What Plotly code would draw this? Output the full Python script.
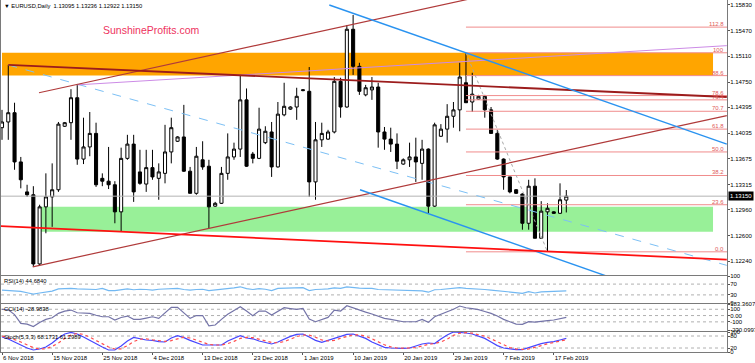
import plotly.graph_objects as go

# ---------------- data ----------------
bar_index = list(range(91))
opens = [1.1411, 1.1419, 1.1432, 1.1363, 1.1321, 1.1317, 1.1220, 1.1300, 1.1314, 1.1324,
         1.1413, 1.1418, 1.1453, 1.1367, 1.1384, 1.1403, 1.1340, 1.1336, 1.1331, 1.1293,
         1.1368, 1.1388, 1.1349, 1.1332, 1.1355, 1.1340, 1.1347, 1.1377, 1.1392, 1.1398,
         1.1350, 1.1319, 1.1366, 1.1357, 1.1301, 1.1305, 1.1347, 1.1370, 1.1381, 1.1450,
         1.1374, 1.1368, 1.1390, 1.1405, 1.1356, 1.1429, 1.1437, 1.1440, 1.1463, 1.1462,
         1.1335, 1.1394, 1.1395, 1.1405, 1.1476, 1.1440, 1.1549, 1.1497, 1.1457, 1.1464,
         1.1468, 1.1405, 1.1395, 1.1388, 1.1360, 1.1366, 1.1370, 1.1361, 1.1381, 1.1301,
         1.1399, 1.1409, 1.1427, 1.1436, 1.1474, 1.1447, 1.1451, 1.1455, 1.1436, 1.1403,
         1.1367, 1.1342, 1.1324, 1.1318, 1.1277, 1.1329, 1.1256, 1.1293, 1.1293, 1.1291,
         1.13095]
highs = [1.1436, 1.1499, 1.1446, 1.1370, 1.1331, 1.1329, 1.1303, 1.1347, 1.1361, 1.1419,
         1.1419, 1.1465, 1.1471, 1.1425, 1.1433, 1.1418, 1.1347, 1.1384, 1.1336, 1.1383,
         1.1401, 1.1401, 1.1380, 1.1380, 1.1380, 1.1361, 1.1415, 1.1425, 1.1399, 1.1443,
         1.1356, 1.1384, 1.1392, 1.1366, 1.1307, 1.1356, 1.1403, 1.1390, 1.1485, 1.1466,
         1.1377, 1.1439, 1.1413, 1.1419, 1.1447, 1.1474, 1.1441, 1.1467, 1.1465, 1.1496,
         1.1419, 1.1418, 1.1408, 1.1482, 1.1481, 1.1555, 1.1569, 1.1502, 1.1471, 1.1482,
         1.1474, 1.1412, 1.1411, 1.1403, 1.1368, 1.1390, 1.1397, 1.1394, 1.1382, 1.1418,
         1.1416, 1.1444, 1.1447, 1.1502, 1.1516, 1.1488, 1.1457, 1.1457, 1.1440, 1.1408,
         1.1368, 1.1342, 1.1325, 1.1319, 1.1338, 1.1340, 1.1308, 1.1305, 1.1294, 1.1333,
         1.13236]
lows = [1.1394, 1.1394, 1.1352, 1.1326, 1.1314, 1.1216, 1.1218, 1.1263, 1.1272, 1.1321,
        1.1412, 1.1394, 1.1359, 1.1360, 1.1371, 1.1328, 1.1329, 1.1325, 1.1277, 1.1265,
        1.1366, 1.1307, 1.1331, 1.1321, 1.1338, 1.1310, 1.1333, 1.1361, 1.1391, 1.1349,
        1.1319, 1.1317, 1.1352, 1.1270, 1.1300, 1.1304, 1.1338, 1.1366, 1.1370, 1.1356,
        1.1361, 1.1367, 1.1388, 1.1342, 1.1355, 1.1427, 1.1436, 1.1422, 1.1462, 1.1314,
        1.1310, 1.1384, 1.1394, 1.1403, 1.1425, 1.1439, 1.1485, 1.1457, 1.1455, 1.1450,
        1.1383, 1.1380, 1.1377, 1.1353, 1.1359, 1.1356, 1.1335, 1.1338, 1.1291, 1.1300,
        1.1398, 1.1390, 1.1411, 1.1406, 1.1446, 1.1433, 1.1450, 1.1425, 1.1403, 1.1366,
        1.1324, 1.1319, 1.1318, 1.1268, 1.1268, 1.1256, 1.1256, 1.1237, 1.1290, 1.1290,
        1.12922]
closes = [1.1419, 1.1432, 1.1363, 1.1338, 1.1317, 1.1220, 1.1300, 1.1314, 1.1324, 1.1416,
          1.1418, 1.1453, 1.1367, 1.1384, 1.1403, 1.1331, 1.1336, 1.1331, 1.1293, 1.1368,
          1.1388, 1.1321, 1.1333, 1.1355, 1.1342, 1.1349, 1.1377, 1.1411, 1.1398, 1.1350,
          1.1319, 1.1371, 1.1356, 1.1300, 1.1305, 1.1347, 1.1370, 1.1381, 1.1450, 1.1357,
          1.1368, 1.1409, 1.1406, 1.1356, 1.1430, 1.1441, 1.1440, 1.1455, 1.1464, 1.1335,
          1.1394, 1.1403, 1.1405, 1.1476, 1.1440, 1.1549, 1.1497, 1.1462, 1.1467, 1.1468,
          1.1405, 1.1395, 1.1388, 1.1364, 1.1366, 1.1370, 1.1363, 1.1381, 1.1301, 1.1415,
          1.1409, 1.1427, 1.1436, 1.1482, 1.1446, 1.1458, 1.1455, 1.1436, 1.1403, 1.1367,
          1.1342, 1.1321, 1.1319, 1.1277, 1.1329, 1.1256, 1.1294, 1.1298, 1.1291, 1.1310,
          1.13150]

rsi = [48, 46, 44, 43, 38, 33, 37, 40, 44, 52, 53, 54, 52, 51, 51, 50, 54, 46, 46, 48,
       52, 49, 51, 50, 48, 51, 52, 53, 54, 50, 48, 50, 51, 46, 48, 51, 54, 56, 60, 53,
       50, 53, 51, 46, 54, 55, 55, 56, 57, 46, 50, 51, 52, 56, 54, 60, 57, 55, 54, 54,
       50, 49, 48, 47, 47, 46, 46, 45, 40, 49, 50, 52, 54, 57, 54, 53, 53, 50, 48, 46,
       42, 40, 39, 36, 42, 37, 41, 42, 43, 46, 44.684]
cci = [98, 92, 16, -124, -135, -175, -110, -60, -35, 35, 70, 87, 44, 40, 35, 5, -19, -19, -71, -30,
       -8, -60, -60, -40, -19, -44, 40, 130, 130, 40, -44, 0, 0, -162, -150, -60, 19, 80, 140, 71,
       -3, 71, 71, 8, 70, 124, 110, 98, 114, -56, -98, -63, -29, 87, 71, 156, 119, 87, 55, 24,
       -8, -44, -60, -79, -98, -98, -98, -60, -108, -19, 20, 56, 100, 151, 124, 110, 95, 65, 35, -8,
       -60, -98, -135, -140, -98, -103, -87, -79, -71, -48, -28.98]
stoch_k = [75, 65, 50, 35, 20, 10, 15, 25, 45, 70, 90, 98, 90, 75, 57, 40, 25, 10, 10, 30,
           55, 73, 65, 60, 58, 52, 50, 70, 82, 72, 58, 45, 35, 35, 35, 35, 55, 68, 82, 70,
           66, 55, 48, 40, 50, 65, 78, 88, 90, 75, 58, 48, 58, 70, 80, 88, 90, 80, 68, 50,
           35, 23, 20, 18, 18, 20, 30, 40, 45, 42, 65, 85, 100, 98, 95, 90, 80, 68, 50, 32,
           20, 15, 12, 12, 22, 32, 42, 48, 52, 60, 68.17]
stoch_d = [80, 72, 62, 50, 35, 22, 15, 16, 28, 45, 68, 85, 93, 88, 74, 58, 40, 25, 15, 16,
           32, 52, 64, 66, 61, 57, 53, 57, 67, 74, 70, 58, 46, 38, 35, 35, 42, 53, 68, 73,
           72, 64, 56, 48, 46, 52, 64, 77, 85, 84, 74, 60, 55, 58, 69, 79, 86, 86, 79, 66,
           51, 36, 26, 20, 19, 19, 22, 30, 38, 42, 50, 64, 83, 94, 97, 94, 88, 79, 66, 50,
           34, 22, 16, 13, 15, 22, 32, 41, 47, 53, 61.30]

tick_bars = [0, 8, 16, 24, 32, 40, 48, 56, 64, 72, 80, 88]
tick_dates = ["6 Nov 2018", "15 Nov 2018", "25 Nov 2018", "4 Dec 2018", "13 Dec 2018",
              "23 Dec 2018", "1 Jan 2019", "10 Jan 2019", "20 Jan 2019", "29 Jan 2019",
              "7 Feb 2019", "17 Feb 2019"]
price_ticks = [1.15830, 1.15470, 1.15110, 1.14750, 1.14395, 1.14035, 1.13675, 1.13315,
               1.12960, 1.12600, 1.12240]

# drawing objects (bar index, price)
fib_levels = [1.1552, 1.1516, 1.1484, 1.1456, 1.1450, 1.1434, 1.1409, 1.1377, 1.1344, 1.1303, 1.1237]
fib_names = ["112.8", "100", "88.6", "78.6", "76.4", "70.7", "61.8", "50.0", "38.2", "23.6", "0.0"]
fib_start = 74
fib_diag_x = [74, 87]
fib_diag_y = [1.1516, 1.1237]
orange_zone_x = [0, 113.4]
orange_zone_y = [1.1484, 1.1516]
green_zone_x = [6, 113.4]
green_zone_y = [1.1265, 1.1300]
chan_up_x = [5.9, 115.6]
chan_up_y = [1.1460, 1.1670]
chan_lo_x = [4.9, 115.6]
chan_lo_y = [1.1216, 1.1428]
long_red_x = [1, 115.6]
long_red_y = [1.1499, 1.1454]
violet_x = [12, 115.6]
violet_y = [1.1471, 1.1526]
lblue_x = [1, 115.6]
lblue_y = [1.1499, 1.1218]
blue_up_x = [52.2, 115.6]
blue_up_y = [1.1583, 1.1388]
blue_lo_x = [57.1, 115.6]
blue_lo_y = [1.1324, 1.1144]
red_x = [-0.2, 115.6]
red_y = [1.1273, 1.1226]
last_price = 1.13150

X_RANGE = [-0.16, 115.63]
FONT = "Liberation Sans, Arial, sans-serif"

fig = go.Figure()

# zones
fig.add_shape(type="rect", xref="x", yref="y", x0=orange_zone_x[0], x1=orange_zone_x[1],
              y0=orange_zone_y[0], y1=orange_zone_y[1], fillcolor="#ffa500",
              line=dict(width=0), layer="below")
fig.add_shape(type="rect", xref="x", yref="y", x0=green_zone_x[0], x1=green_zone_x[1],
              y0=green_zone_y[0], y1=green_zone_y[1], fillcolor="#98f098",
              line=dict(width=0), layer="below")

def seg(x, y, color, width=1, dash="solid"):
    fig.add_trace(go.Scatter(x=x, y=y, mode="lines", line=dict(color=color, width=width, dash=dash),
                             xaxis="x", yaxis="y", showlegend=False, hoverinfo="skip"))

# fib lines
fx, fy = [], []
for lv in fib_levels:
    fx += [fib_start, X_RANGE[1], None]
    fy += [lv, lv, None]
seg(fx, fy, "#f08c8c", 1)
seg(fib_diag_x, fib_diag_y, "#a8a8a8", 1, "dot")
seg([X_RANGE[0], X_RANGE[1]], [last_price, last_price], "#b4b4b4", 1)

seg(lblue_x, lblue_y, "#7cc0f5", 1, "dash")
seg(violet_x, violet_y, "#cc8be6", 1)
seg(chan_up_x, chan_up_y, "#b03a3a", 1.2)
seg(chan_lo_x, chan_lo_y, "#b03a3a", 1.2)
seg(long_red_x, long_red_y, "#9c1c1c", 1.8)
seg(blue_up_x, blue_up_y, "#2a93f0", 1.4)
seg(blue_lo_x, blue_lo_y, "#2a93f0", 1.4)
seg(red_x, red_y, "#ff1010", 1.8)

fig.add_trace(go.Candlestick(
    x=bar_index, open=opens, high=highs, low=lows, close=closes,
    increasing=dict(line=dict(color="black", width=1), fillcolor="white"),
    decreasing=dict(line=dict(color="black", width=1), fillcolor="black"),
    whiskerwidth=0, xaxis="x", yaxis="y", showlegend=False, hoverinfo="skip"))

# indicators
def hline(xa, ya, val):
    fig.add_trace(go.Scatter(x=X_RANGE, y=[val, val], mode="lines",
                             line=dict(color="#b0b0b0", width=1, dash="dot"),
                             xaxis=xa, yaxis=ya, showlegend=False, hoverinfo="skip"))

for v in (70, 30):
    hline("x2", "y2", v)
fig.add_trace(go.Scatter(x=bar_index, y=rsi, mode="lines", line=dict(color="#72b8f2", width=1.2),
                         xaxis="x2", yaxis="y2", showlegend=False, hoverinfo="skip"))
for v in (100, 0, -100):
    hline("x3", "y3", v)
fig.add_trace(go.Scatter(x=bar_index, y=cci, mode="lines", line=dict(color="#7474a8", width=1.2),
                         xaxis="x3", yaxis="y3", showlegend=False, hoverinfo="skip"))
for v in (80, 20):
    hline("x4", "y4", v)
fig.add_trace(go.Scatter(x=bar_index, y=stoch_k, mode="lines", line=dict(color="#4646ff", width=1.2),
                         xaxis="x4", yaxis="y4", showlegend=False, hoverinfo="skip"))
fig.add_trace(go.Scatter(x=bar_index, y=stoch_d, mode="lines", line=dict(color="#ff4d4d", width=1.2, dash="dot"),
                         xaxis="x4", yaxis="y4", showlegend=False, hoverinfo="skip"))

H = 352.0
def dom(top_px, bot_px):
    return [(H - bot_px) / H, (H - top_px) / H]

axis_common = dict(showgrid=False, zeroline=False, showline=True, mirror=True,
                   linecolor="#7a7a7a", linewidth=1, fixedrange=True, automargin=False)
xbase = dict(axis_common, range=X_RANGE, showticklabels=False, ticks="")
ybase = dict(axis_common, side="right", ticks="outside", ticklen=2, tickcolor="#555555",
             ticklabelstandoff=-1,
             tickfont=dict(family=FONT, size=6, color="black"))

fig.update_layout(
    width=755, height=363,
    margin=dict(l=1, r=28, t=0, b=11, autoexpand=False),
    paper_bgcolor="white", plot_bgcolor="white",
    font=dict(family=FONT, size=6, color="black"),
    xaxis=dict(xbase, anchor="y", rangeslider=dict(visible=False)),
    xaxis2=dict(xbase, anchor="y2", matches="x"),
    xaxis3=dict(xbase, anchor="y3", matches="x"),
    xaxis4=dict(xbase, anchor="y4", matches="x", showticklabels=True, ticks="outside",
                ticklen=2, tickcolor="#555555", tickvals=tick_bars, ticktext=tick_dates,
                ticklabelposition="outside right", ticklabelstandoff=0,
                tickfont=dict(family=FONT, size=6, color="black")),
    yaxis=dict(ybase, domain=dom(0, 275), range=[1.12045, 1.1590], anchor="x",
               tickvals=price_ticks, ticktext=["%.5f" % v for v in price_ticks]),
    yaxis2=dict(ybase, domain=dom(276, 303), range=[0, 100], anchor="x2",
                tickvals=[100, 70, 30, 0], ticktext=["100", "70", "30", "0"]),
    yaxis3=dict(ybase, domain=dom(304, 331), range=[-245, 183.3607], anchor="x3",
                tickvals=[183.3607, 100, 0, -100, -230.0997],
                ticktext=["183.3607", "100", "0.00", "-100", "-230.0997"]),
    yaxis4=dict(ybase, domain=dom(332, 352), range=[0, 100], anchor="x4",
                tickvals=[100, 80, 20, 0], ticktext=["100", "80", "20", "0"]),
)

ann = []
ann.append(dict(xref="paper", yref="paper", x=0, y=1, xanchor="left", yanchor="top", xshift=1, yshift=-1,
                text="▼ EURUSD,Daily  1.13095 1.13236 1.12922 1.13150", showarrow=False,
                font=dict(family=FONT, size=5.8, color="black")))
ann.append(dict(xref="x", yref="y", x=23.9, y=1.1548, xanchor="center", yanchor="middle",
                text="SunshineProfits.com", showarrow=False,
                font=dict(family=FONT, size=10.5, color="#ee3360")))
for lv, nm in zip(fib_levels, fib_names):
    ann.append(dict(xref="x", yref="y", x=115.4, y=lv, xanchor="right", yanchor="bottom", yshift=-2,
                    text=nm, showarrow=False, font=dict(family=FONT, size=6, color="#e05a5a")))
ann.append(dict(xref="paper", yref="y", x=1, y=last_price, xanchor="left", yanchor="middle", xshift=1,
                text="1.13150", showarrow=False, bgcolor="black", borderpad=1,
                font=dict(family=FONT, size=6, color="white")))
for ya, txt in (("y2 domain", "RSI(14) 44.6840"), ("y3 domain", "CCI(14) -28.9838"),
                ("y4 domain", "Stoch(5,3,3) 68.1731 61.2989")):
    ann.append(dict(xref="paper", yref=ya, x=0, y=1, xanchor="left", yanchor="top", xshift=1, yshift=0,
                    text=txt, showarrow=False, font=dict(family=FONT, size=5.8, color="black")))
fig.update_layout(annotations=ann)

fig.write_html("out.html", config={"displayModeBar": False, "staticPlot": True},
               post_script="document.body.style.margin='0';document.body.style.overflow='hidden';")
